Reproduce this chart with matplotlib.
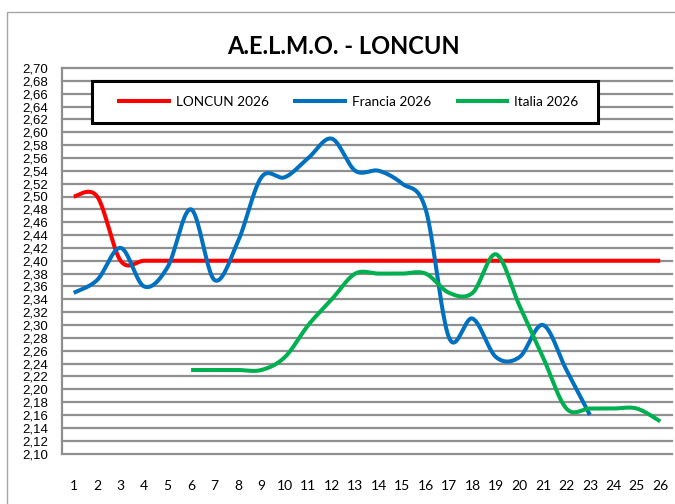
import numpy as np
import matplotlib
matplotlib.use("Agg")
import matplotlib.pyplot as plt
from matplotlib.patches import Rectangle
from matplotlib.ticker import FuncFormatter

title = "A.E.L.M.O. - LONCUN"
days = list(range(1, 27))
series_names = ["LONCUN 2026", "Francia 2026", "Italia 2026"]
series_colors = ["#FF0000", "#0070C0", "#00B050"]

loncun = [2.50, 2.50, 2.40] + [2.40] * 23
francia = [2.35, 2.37, 2.42, 2.36, 2.39, 2.48, 2.37, 2.43, 2.53, 2.53, 2.56, 2.59,
           2.54, 2.54, 2.52, 2.48, 2.28, 2.31, 2.25, 2.25, 2.30, 2.23, 2.16,
           None, None, None]
italia = [None, None, None, None, None, 2.23, 2.23, 2.23, 2.23, 2.25, 2.30, 2.34,
          2.38, 2.38, 2.38, 2.38, 2.35, 2.35, 2.41, 2.33, 2.25, 2.17, 2.17,
          2.17, 2.17, 2.15]

yticks = [round(2.10 + 0.02 * i, 2) for i in range(31)]


def smooth(xs, ys, n=40):
    """Excel-like smoothed line (Bezier with Catmull-Rom control points)."""
    pts = [(x, y) for x, y in zip(xs, ys) if y is not None]
    P = np.array(pts, dtype=float)
    m = len(P)
    out = []
    for i in range(m - 1):
        p0 = P[i - 1] if i > 0 else P[i]
        p1 = P[i]
        p2 = P[i + 1]
        p3 = P[i + 2] if i + 2 < m else P[i + 1]
        c1 = p1 + (p2 - p0) / 6.0
        c2 = p2 - (p3 - p1) / 6.0
        t = np.linspace(0, 1, n)[:, None]
        seg = ((1 - t) ** 3) * p1 + 3 * ((1 - t) ** 2) * t * c1 + 3 * (1 - t) * t ** 2 * c2 + t ** 3 * p2
        out.append(seg if i == 0 else seg[1:])
    arr = np.vstack(out)
    return arr[:, 0], arr[:, 1]


fig = plt.figure(figsize=(6.75, 5.04), dpi=100)
fig.patch.set_facecolor("white")

# outer chart border (extends beyond right/bottom edges)
fig.patches.append(Rectangle((7 / 675, -0.05), 1.2, 1 - 11.5 / 504 + 0.05,
                             transform=fig.transFigure, fill=False,
                             edgecolor="#a6a6a6", linewidth=1.0))

ax = fig.add_axes([62 / 675, 1 - 453.5 / 504, (672 - 62) / 675, (453.5 - 68) / 504])
ax.set_xlim(0.5, 26.5)
ax.set_ylim(2.10, 2.70)

grid_color = "#8f8f8f"
for yv in yticks:
    ax.axhline(yv, color=grid_color, linewidth=1.6, zorder=1, clip_on=False)

for s in ["top", "right", "bottom"]:
    ax.spines[s].set_visible(False)
ax.spines["left"].set_color(grid_color)
ax.spines["left"].set_linewidth(1.6)

ax.set_yticks(yticks)
ax.yaxis.set_major_formatter(FuncFormatter(lambda v, p: f"{v:.2f}".replace(".", ",")))
ax.tick_params(axis="y", length=0, pad=10, labelsize=9.5)
for lab in ax.get_yticklabels():
    lab.set_fontfamily("Liberation Sans")

ax.set_xticks(days)
ax.set_xticklabels([str(d) for d in days], fontfamily="Lato", fontsize=10)
ax.tick_params(axis="x", length=0, pad=19)

handles = []
for name, col, vals in zip(series_names, series_colors, [loncun, francia, italia]):
    sx, sy = smooth(days, vals)
    h, = ax.plot(sx, sy, color=col, linewidth=2.9, solid_capstyle="butt", zorder=3, label=name)
    handles.append(h)

fig.text(343 / 675, 1 - 47 / 504, title, ha="center", va="center",
         fontsize=17, fontweight="bold", fontfamily="Lato")

# legend box
fig.patches.append(Rectangle((92 / 675, 1 - 123 / 504), (598 - 92) / 675, (123 - 81) / 504,
                             transform=fig.transFigure, facecolor="white",
                             edgecolor="black", linewidth=2.2, zorder=4))

leg = fig.legend(handles=handles, labels=series_names, loc="center",
                 bbox_to_anchor=(348 / 675, 1 - 102 / 504),
                 ncol=3, frameon=False,
                 handlelength=3.9, handletextpad=0.4, columnspacing=1.8,
                 prop={"family": "Lato", "size": 9.8}, borderaxespad=0)
leg.set_zorder(5)

fig.savefig("out.png", dpi=100, facecolor="white")
